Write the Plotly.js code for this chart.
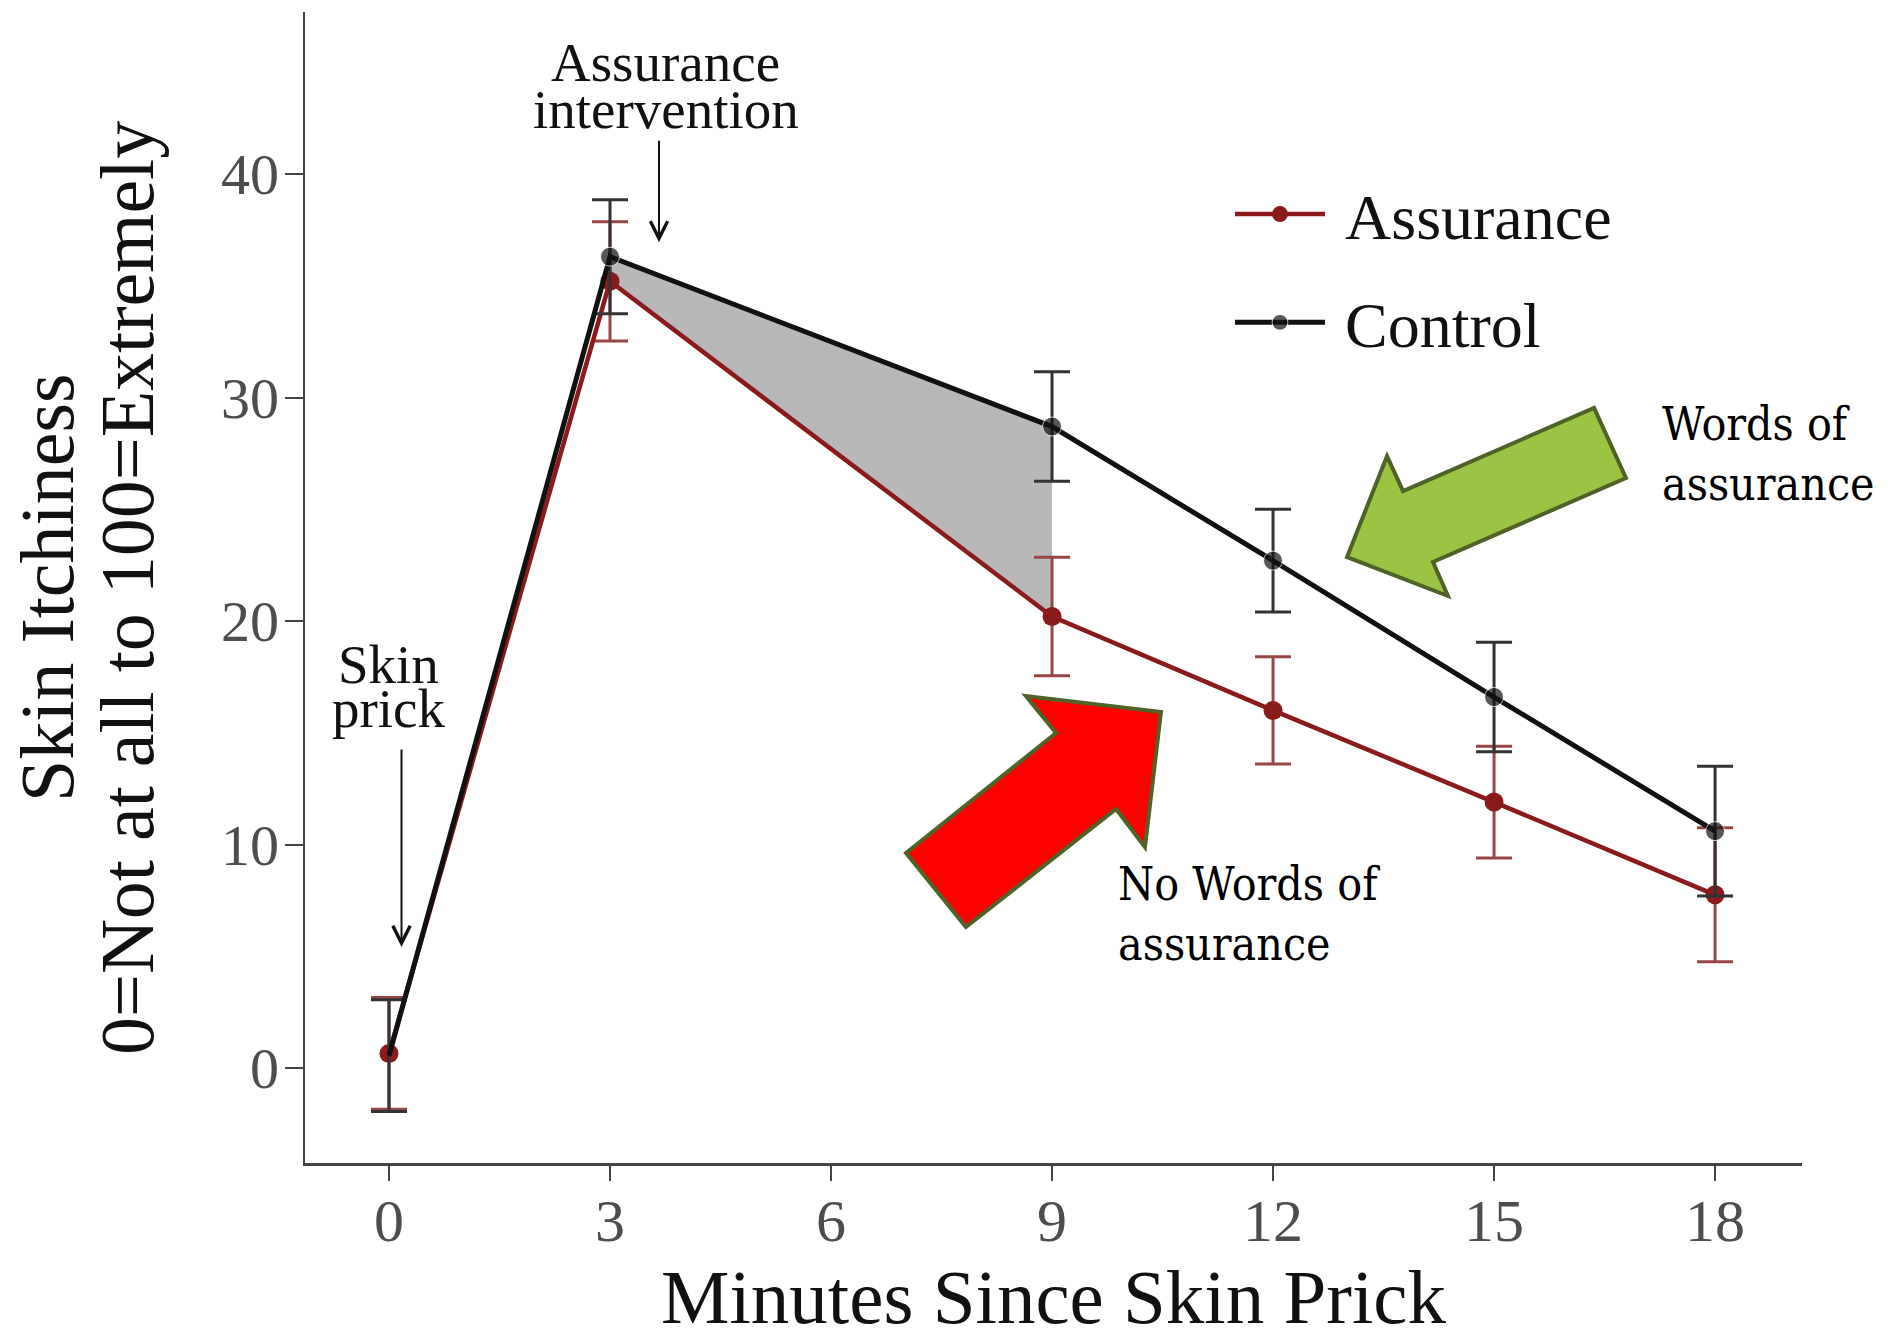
<!DOCTYPE html>
<html>
<head>
<meta charset="utf-8">
<script src="https://cdn.plot.ly/plotly-3.0.1.min.js"></script>
<style>
  html, body { margin: 0; padding: 0; background: #ffffff; }
  #chart { width: 1896px; height: 1340px; }
</style>
</head>
<body>
<div id="chart"></div>
<script>
// ---- data ----
const minutes = [0, 3, 9, 12, 15, 18];
const assuranceMean = [0.65, 35.2, 20.2, 16.0, 11.9, 7.75];
const assuranceErr = [2.5, 2.67, 2.65, 2.4, 2.5, 3.0];
const controlMean = [0.55, 36.3, 28.7, 22.7, 16.6, 10.6];
const controlErr = [2.5, 2.55, 2.45, 2.3, 2.45, 2.9];
const xTickVals = [0, 3, 6, 9, 12, 15, 18];
const yTickVals = [0, 10, 20, 30, 40];
const seriesNames = ['Assurance', 'Control'];
const yTitleLines = ['Skin Itchiness', '0=Not at all to 100=Extremely'];
const xTitle = 'Minutes Since Skin Prick';

// shaded gap between the two series from minute 3 to minute 9
const gapIdx = [1, 2];

// ---- layout geometry ----
const L = 305, T = 12, W = 1497, H = 1151;
const px = x => (x - L) / W;
const py = y => (T + H - y) / H;
const polyPath = pts => 'M ' + pts.map(p => px(p[0]).toFixed(4) + ',' + py(p[1]).toFixed(4)).join(' L ') + ' Z';

const serif = 'Liberation Serif, Times New Roman, serif';
const slab = '"DejaVu Serif Condensed", "DejaVu Serif", serif';
const RED = '#8B1A1A';
const BLACK = '#111111';

const fillTrace = {
  x: [minutes[gapIdx[0]], minutes[gapIdx[1]], minutes[gapIdx[1]], minutes[gapIdx[0]]],
  y: [controlMean[gapIdx[0]], controlMean[gapIdx[1]], assuranceMean[gapIdx[1]], assuranceMean[gapIdx[0]]],
  type: 'scatter', mode: 'lines', fill: 'toself',
  fillcolor: '#B8B8B8', line: { width: 0 },
  showlegend: false, hoverinfo: 'skip'
};

const assuranceTrace = {
  x: minutes, y: assuranceMean, name: seriesNames[0],
  type: 'scatter', mode: 'lines+markers',
  line: { color: RED, width: 4.5 },
  marker: { color: RED, size: 19 },
  error_y: { type: 'data', array: assuranceErr, visible: true, color: '#9A4545', thickness: 3, width: 18 },
  legendgroup: 'a', legendrank: 1, cliponaxis: false
};

const controlTrace = {
  x: minutes, y: controlMean, name: seriesNames[1],
  type: 'scatter', mode: 'lines+markers',
  line: { color: BLACK, width: 5 },
  marker: { color: BLACK, size: [0, 19, 19, 19, 19, 19] },
  error_y: { type: 'data', array: controlErr, visible: true, color: '#333333', thickness: 3, width: 18 },
  legendgroup: 'c', legendrank: 2, cliponaxis: false
};

const greenArrow = [[1347,557],[1387,456],[1403,491],[1594,408],[1626,478],[1433,562],[1448,596]];
const redArrow = [[1161,712],[1026,696],[1056,733],[906,853],[966,927],[1116,809],[1145,847]];

const layout = {
  width: 1896, height: 1340,
  margin: { l: L, r: 1896 - L - W, t: T, b: 1340 - T - H },
  paper_bgcolor: '#ffffff', plot_bgcolor: '#ffffff',
  showlegend: true,
  legend: {
    x: px(1230), y: py(166), xanchor: 'left', yanchor: 'top',
    font: { family: serif, size: 64, color: '#111' },
    bgcolor: 'rgba(0,0,0,0)', traceorder: 'grouped', tracegroupgap: 22,
    itemwidth: 105
  },
  xaxis: {
    range: [-1.14, 19.18], tickvals: xTickVals,
    showgrid: false, zeroline: false,
    showline: true, linecolor: '#444', linewidth: 2.5,
    ticks: 'outside', ticklen: 15, tickwidth: 2, tickcolor: '#444',
    tickfont: { family: serif, size: 60, color: '#4D4D4D' },
    ticklabelstandoff: -12,
    title: { text: xTitle, font: { family: serif, size: 77, color: '#111' }, standoff: 20 },
    automargin: false
  },
  yaxis: {
    range: [-4.25, 47.25], tickvals: yTickVals,
    showgrid: false, zeroline: false,
    showline: true, linecolor: '#444', linewidth: 2.5,
    ticks: 'outside', ticklen: 18, tickwidth: 2, tickcolor: '#444',
    tickfont: { family: serif, size: 58, color: '#4D4D4D' },
    ticklabelstandoff: -6,
    automargin: false
  },
  shapes: [
    { type: 'path', xref: 'paper', yref: 'paper', path: polyPath(greenArrow),
      fillcolor: '#9BC443', line: { color: '#4F6228', width: 4 }, layer: 'above' },
    { type: 'path', xref: 'paper', yref: 'paper', path: polyPath(redArrow),
      fillcolor: '#FF0000', line: { color: '#4F6228', width: 4 }, layer: 'above' }
  ],
  annotations: [
    // y-axis title, two lines
    { xref: 'paper', yref: 'paper', x: px(47), y: 0.4996, text: yTitleLines[0], textangle: -90, showarrow: false,
      font: { family: serif, size: 76, color: '#111' }, xanchor: 'center', yanchor: 'middle' },
    { xref: 'paper', yref: 'paper', x: px(127), y: 0.4996, text: yTitleLines[1], textangle: -90, showarrow: false,
      font: { family: serif, size: 76, color: '#111' }, xanchor: 'center', yanchor: 'middle' },
    // skin prick
    { xref: 'x', yref: 'y', x: 0, y: 18.07, text: 'Skin', showarrow: false,
      font: { family: serif, size: 55, color: '#111' }, xanchor: 'center', yanchor: 'middle' },
    { xref: 'x', yref: 'y', x: 0, y: 16.1, text: 'prick', showarrow: false,
      font: { family: serif, size: 55, color: '#111' }, xanchor: 'center', yanchor: 'middle' },
    { xref: 'x', yref: 'y', x: 0.17, y: 5.42, ax: 0.17, ay: 14.7, axref: 'x', ayref: 'y',
      text: ' ', showarrow: true, arrowhead: 5, arrowsize: 1.7, arrowwidth: 2, arrowcolor: '#111', standoff: 0, startstandoff: 0 },
    // assurance intervention
    { xref: 'x', yref: 'y', x: 3.76, y: 45.0, text: 'Assurance', showarrow: false,
      font: { family: serif, size: 55, color: '#111' }, xanchor: 'center', yanchor: 'middle' },
    { xref: 'x', yref: 'y', x: 3.76, y: 42.9, text: 'intervention', showarrow: false,
      font: { family: serif, size: 55, color: '#111' }, xanchor: 'center', yanchor: 'middle' },
    { xref: 'x', yref: 'y', x: 3.665, y: 36.95, ax: 3.665, ay: 41.94, axref: 'x', ayref: 'y',
      text: ' ', showarrow: true, arrowhead: 5, arrowsize: 1.7, arrowwidth: 2, arrowcolor: '#111', standoff: 0, startstandoff: 0 },
    // callouts
    { xref: 'paper', yref: 'paper', x: px(1660), y: py(454), text: 'Words of<br>assurance', showarrow: false,
      align: 'left', xanchor: 'left', yanchor: 'middle',
      font: { family: slab, size: 46, color: '#000' } },
    { xref: 'paper', yref: 'paper', x: px(1116), y: py(914), text: 'No Words of<br>assurance', showarrow: false,
      align: 'left', xanchor: 'left', yanchor: 'middle',
      font: { family: slab, size: 46, color: '#000' } }
  ]
};

Plotly.newPlot('chart', [fillTrace, assuranceTrace, controlTrace], layout, { staticPlot: true, displayModeBar: false })
  .then(gd => {
    // lengthen legend sample lines to match the reference key
    gd.querySelectorAll('.legend .traces').forEach(g => {
      g.querySelectorAll('.legendlines path').forEach(p => p.setAttribute('d', 'M5,0h90'));
      g.querySelectorAll('.legendpoints path.scatterpts').forEach(p => p.setAttribute('transform', 'translate(50,0)'));
    });
  });
</script>
</body>
</html>
